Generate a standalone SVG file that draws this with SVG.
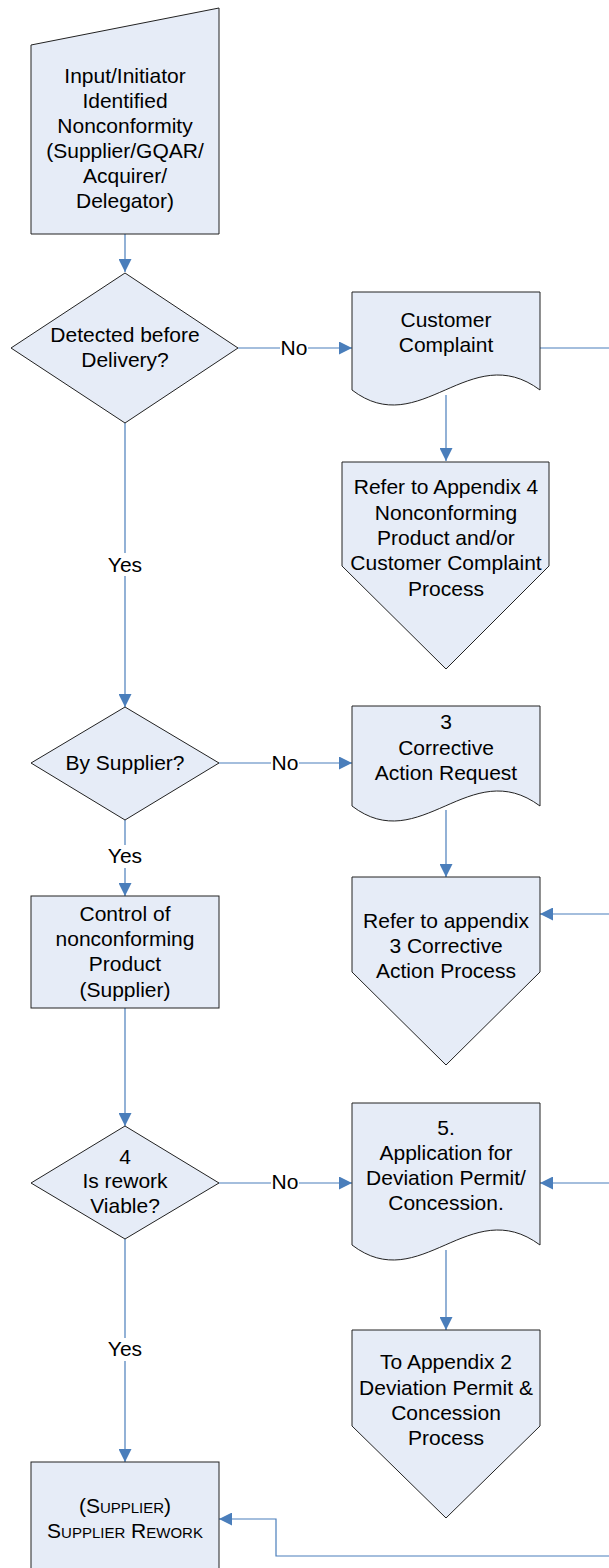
<svg xmlns="http://www.w3.org/2000/svg" width="609" height="1568" viewBox="0 0 609 1568">
  <style>
    .shape { fill: #E6ECF7; stroke: #222; stroke-width: 1; }
    .conn { fill: none; stroke: #4A7EBB; stroke-width: 1.2; }
    .lbl { font-family: "Liberation Sans", Arial, sans-serif; font-size: 21px; fill: #000; text-anchor: middle; }
    .sc { font-variant: small-caps; }
    .mask { fill: #fff; }
  </style>
  <defs>
    <marker id="arrow" markerUnits="userSpaceOnUse" markerWidth="13" markerHeight="13" refX="13" refY="6.5" orient="auto">
      <path d="M0,0 L13,6.5 L0,13 Z" fill="#4A7EBB"/>
    </marker>
  </defs>
  <rect width="609" height="1568" fill="#fff"/>

  <!-- connectors -->
  <g id="connectors">
    <path class="conn" d="M125,234 V272" marker-end="url(#arrow)"/>
    <path class="conn" d="M238,348 H352" marker-end="url(#arrow)"/>
    <path class="conn" d="M125,423 V707" marker-end="url(#arrow)"/>
    <path class="conn" d="M446,395 V461" marker-end="url(#arrow)"/>
    <path class="conn" d="M540,348 H609"/>
    <path class="conn" d="M219,763 H352" marker-end="url(#arrow)"/>
    <path class="conn" d="M125,820 V896" marker-end="url(#arrow)"/>
    <path class="conn" d="M446,810 V877" marker-end="url(#arrow)"/>
    <path class="conn" d="M609,914 H540" marker-end="url(#arrow)"/>
    <path class="conn" d="M125,1008 V1126" marker-end="url(#arrow)"/>
    <path class="conn" d="M219,1183 H352" marker-end="url(#arrow)"/>
    <path class="conn" d="M609,1183 H540" marker-end="url(#arrow)"/>
    <path class="conn" d="M446,1250 V1330" marker-end="url(#arrow)"/>
    <path class="conn" d="M125,1239 V1462" marker-end="url(#arrow)"/>
    <path class="conn" d="M609,1556 H276 V1519 H219" marker-end="url(#arrow)"/>

    <!-- branch labels -->
    <rect class="mask" x="280" y="338" width="28" height="22"/>
    <text class="lbl" x="294" y="355">No</text>
    <rect class="mask" x="271" y="753" width="28" height="22"/>
    <text class="lbl" x="285" y="770">No</text>
    <rect class="mask" x="271" y="1172" width="28" height="22"/>
    <text class="lbl" x="285" y="1189">No</text>
    <rect class="mask" x="108" y="553" width="34" height="23"/>
    <text class="lbl" x="125" y="572">Yes</text>
    <rect class="mask" x="108" y="845" width="34" height="23"/>
    <text class="lbl" x="125" y="863">Yes</text>
    <rect class="mask" x="108" y="1338" width="34" height="23"/>
    <text class="lbl" x="125" y="1356">Yes</text>
  </g>

  <!-- manual input -->
  <g id="input">
    <polygon class="shape" points="31,45 219,8 219,234 31,234"/>
    <text class="lbl" x="125" y="83">Input/Initiator</text>
    <text class="lbl" x="125" y="108">Identified</text>
    <text class="lbl" x="125" y="133">Nonconformity</text>
    <text class="lbl" x="125" y="158">(Supplier/GQAR/</text>
    <text class="lbl" x="125" y="183">Acquirer/</text>
    <text class="lbl" x="125" y="208">Delegator)</text>
  </g>

  <g id="detected-before-delivery">
    <polygon class="shape" points="11,348 125,273 238,348 125,423"/>
    <text class="lbl" x="125" y="342">Detected before</text>
    <text class="lbl" x="125" y="367">Delivery?</text>
  </g>

  <g id="customer-complaint">
    <path class="shape" d="M352,292 H540 V390 C470,338 420,442 352,390 Z"/>
    <text class="lbl" x="446" y="327">Customer</text>
    <text class="lbl" x="446" y="352">Complaint</text>
  </g>

  <g id="appendix-4">
    <polygon class="shape" points="342,462 549,462 549,566 446,669 342,566"/>
    <text class="lbl" x="446" y="494">Refer to Appendix 4</text>
    <text class="lbl" x="446" y="520">Nonconforming</text>
    <text class="lbl" x="446" y="545">Product and/or</text>
    <text class="lbl" x="446" y="570">Customer Complaint</text>
    <text class="lbl" x="446" y="596">Process</text>
  </g>

  <g id="by-supplier">
    <polygon class="shape" points="31,763 125,707 219,763 125,820"/>
    <text class="lbl" x="125" y="770">By Supplier?</text>
  </g>

  <g id="corrective-action-request">
    <path class="shape" d="M352,706 H540 V806 C470,754 420,858 352,806 Z"/>
    <text class="lbl" x="446" y="729">3</text>
    <text class="lbl" x="446" y="755">Corrective</text>
    <text class="lbl" x="446" y="780">Action Request</text>
  </g>

  <g id="appendix-3">
    <polygon class="shape" points="352,877 540,877 540,972 446,1065 352,972"/>
    <text class="lbl" x="446" y="928">Refer to appendix</text>
    <text class="lbl" x="446" y="953">3 Corrective</text>
    <text class="lbl" x="446" y="978">Action Process</text>
  </g>

  <g id="control-nonconforming">
    <rect class="shape" x="31" y="896" width="188" height="112"/>
    <text class="lbl" x="125" y="921">Control of</text>
    <text class="lbl" x="125" y="946">nonconforming</text>
    <text class="lbl" x="125" y="971">Product</text>
    <text class="lbl" x="125" y="997">(Supplier)</text>
  </g>

  <g id="rework-viable">
    <polygon class="shape" points="31,1183 125,1126 219,1183 125,1239"/>
    <text class="lbl" x="125" y="1164">4</text>
    <text class="lbl" x="125" y="1188">Is rework</text>
    <text class="lbl" x="125" y="1213">Viable?</text>
  </g>

  <g id="deviation-application">
    <path class="shape" d="M352,1103 H540 V1245 C470,1193 420,1297 352,1245 Z"/>
    <text class="lbl" x="446" y="1135">5.</text>
    <text class="lbl" x="446" y="1160">Application for</text>
    <text class="lbl" x="446" y="1185">Deviation Permit/</text>
    <text class="lbl" x="446" y="1210">Concession.</text>
  </g>

  <g id="appendix-2">
    <polygon class="shape" points="352,1330 540,1330 540,1426 446,1518 352,1426"/>
    <text class="lbl" x="446" y="1369">To Appendix 2</text>
    <text class="lbl" x="446" y="1395">Deviation Permit &amp;</text>
    <text class="lbl" x="446" y="1420">Concession</text>
    <text class="lbl" x="446" y="1445">Process</text>
  </g>

  <g id="supplier-rework">
    <rect class="shape" x="31" y="1462" width="188" height="120"/>
    <text class="lbl sc" x="125" y="1513">(Supplier)</text>
    <text class="lbl sc" x="125" y="1538">Supplier Rework</text>
  </g>
</svg>
